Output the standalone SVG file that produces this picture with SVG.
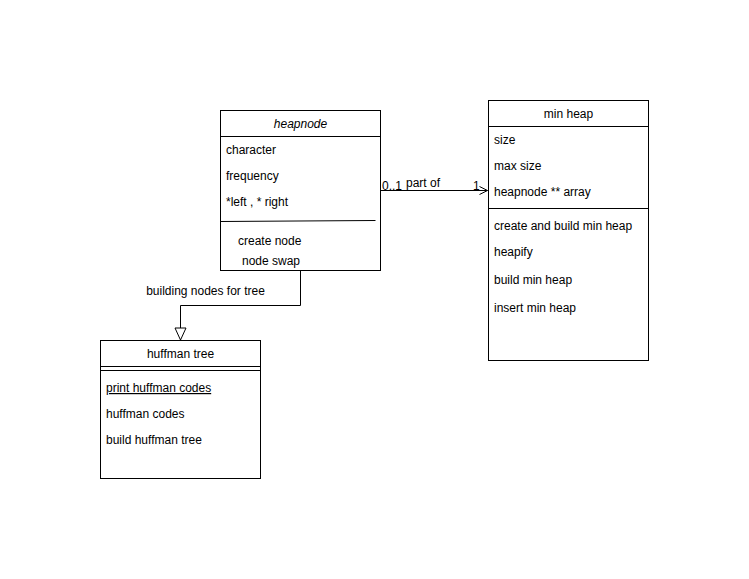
<svg xmlns="http://www.w3.org/2000/svg" width="749" height="579" viewBox="0 0 749 579">
<style>
.box{fill:#fff;stroke:#000;stroke-width:1}
.ln{stroke:#000;stroke-width:1;fill:none}
text{font-family:"Liberation Sans",Arial,Helvetica,sans-serif;font-size:12px;fill:#000}
.c{text-anchor:middle}
</style>
<defs>
<marker id="open" viewBox="0 0 10 10" refX="9" refY="5" markerWidth="10" markerHeight="10" markerUnits="userSpaceOnUse" orient="auto">
<path d="M1,1 L9,5 L1,9" fill="none" stroke="#000" stroke-width="1"/>
</marker>
<marker id="tri" viewBox="0 0 14 14" refX="13" refY="7" markerWidth="14" markerHeight="14" markerUnits="userSpaceOnUse" orient="auto">
<path d="M1,1.5 L13,7 L1,12.5 Z" fill="#fff" stroke="#000" stroke-width="1"/>
</marker>
</defs>
<rect width="749" height="579" fill="#fff"/>
<g id="connectors">
<path class="ln" d="M380.5,190.5 H487.5" marker-end="url(#open)"/>
<text x="382" y="190">0..1</text>
<text x="406" y="187">part of</text>
<text x="473" y="190">1</text>
<path class="ln" d="M300.5,270.5 V305.5 H180.5 V340" marker-end="url(#tri)"/>
<text class="c" x="205.5" y="295">building nodes for tree</text>
</g>
<g id="heapnode">
<rect class="box" x="220.5" y="110.5" width="160" height="160"/>
<line class="ln" x1="220.5" y1="136.5" x2="380.5" y2="136.5"/>
<text class="c" x="300.5" y="128" font-style="italic">heapnode</text>
<text x="226" y="154">character</text>
<text x="226" y="180">frequency</text>
<text x="226" y="206">*left , * right</text>
<line class="ln" x1="220.5" y1="221.5" x2="375.5" y2="220.5"/>
<text x="238" y="245">create node</text>
<text x="242" y="265">node swap</text>
</g>
<g id="minheap">
<rect class="box" x="488.5" y="100.5" width="160" height="260"/>
<line class="ln" x1="488.5" y1="126.5" x2="648.5" y2="126.5"/>
<text class="c" x="568.5" y="118">min heap</text>
<text x="494" y="144">size</text>
<text x="494" y="170">max size</text>
<text x="494" y="196">heapnode ** array</text>
<line class="ln" x1="488.5" y1="208.5" x2="648.5" y2="208.5"/>
<text x="494" y="230">create and build min heap</text>
<text x="494" y="256">heapify</text>
<text x="494" y="284">build min heap</text>
<text x="494" y="312">insert min heap</text>
</g>
<g id="huffmantree">
<rect class="box" x="100.5" y="340.5" width="160" height="138"/>
<line class="ln" x1="100.5" y1="366.5" x2="260.5" y2="366.5"/>
<line class="ln" x1="100.5" y1="370.5" x2="260.5" y2="370.5"/>
<text class="c" x="180.5" y="358">huffman tree</text>
<text x="106" y="392" text-decoration="underline">print huffman codes</text>
<text x="106" y="418">huffman codes</text>
<text x="106" y="444">build huffman tree</text>
</g>
</svg>
